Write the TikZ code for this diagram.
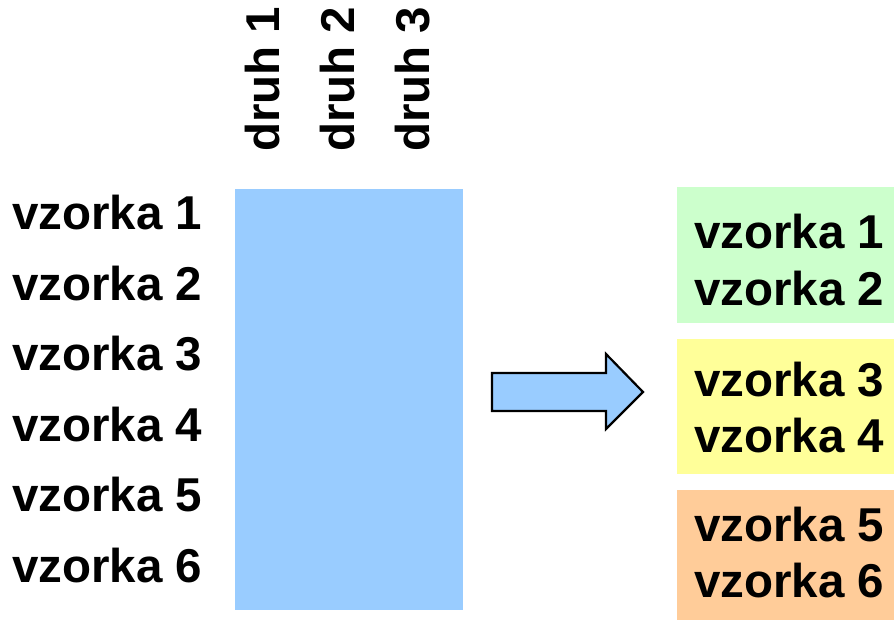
\documentclass[tikz,border=0pt]{standalone}
\usepackage{fontspec}
\setmainfont{Liberation Sans}
\usepackage{tikz}
\definecolor{modra}{HTML}{99CCFF}
\definecolor{zelena}{HTML}{CCFFCC}
\definecolor{zluta}{HTML}{FFFF99}
\definecolor{oranzova}{HTML}{FFCC99}
\tikzset{
	popis/.style={font=\fontsize{47.5}{50}\selectfont\bfseries, inner sep=0pt},
	skupina/.style={draw=none, minimum width=217, inner sep=0pt}
}

\begin{document}
\begin{tikzpicture}[x=1pt, y=-1pt]
			%%%%% START %%%%%
			
			\useasboundingbox (0, 0) rectangle (894, 620);
			
			\fill[modra] (235, 189) rectangle (463, 610);
			
			\node[popis, rotate=90, anchor=west] (d1) at (263, 152) {druh 1};
			\node[popis, rotate=90, anchor=west] (d2) at (338, 152) {druh 2};
			\node[popis, rotate=90, anchor=west] (d3) at (413, 152) {druh 3};
			
			\foreach \i/\y in {1/213, 2/284, 3/354, 4/425, 5/495, 6/566}
				\node[popis, anchor=west] (v\i) at (12, \y) {vzorka \i};
			
			\fill[zelena] (677, 187) rectangle (894, 323);
			\fill[zluta] (677, 339) rectangle (894, 474);
			\fill[oranzova] (677, 490) rectangle (894, 620);
			
			\node[popis, anchor=west] (g1) at (694, 232) {vzorka 1};
			\node[popis, anchor=west] (g2) at (694, 289) {vzorka 2};
			\node[popis, anchor=west] (g3) at (694, 380) {vzorka 3};
			\node[popis, anchor=west] (g4) at (694, 436) {vzorka 4};
			\node[popis, anchor=west] (g5) at (694, 525) {vzorka 5};
			\node[popis, anchor=west] (g6) at (694, 581) {vzorka 6};
			
			\draw[line width=2.2, fill=modra, line join=miter] (492, 373) -- (606, 373) -- (606, 354) -- (643, 392) -- (606, 429) -- (606, 411) -- (492, 411) -- cycle;
			
			%%%%% END %%%%%
\end{tikzpicture}
\end{document}
